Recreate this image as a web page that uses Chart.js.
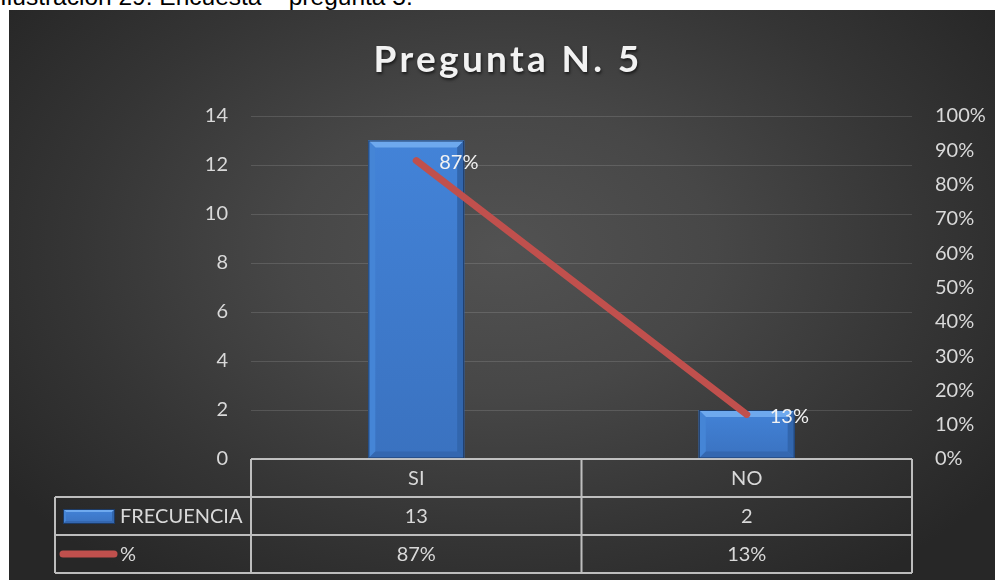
<!DOCTYPE html>
<html>
<head>
<meta charset="utf-8">
<script src="https://cdn.jsdelivr.net/npm/chart.js@4"></script>
<style>
  html, body { margin:0; padding:0; background:#fff; width:995px; height:581px; overflow:hidden; }
  .caption { position:absolute; left:0; top:-15px; font-family:'Liberation Sans', Arial, sans-serif; font-size:24.5px; line-height:24.5px; color:#000; white-space:nowrap; }
  .panel { position:absolute; left:9px; top:10px; width:986px; height:570px;
    background: radial-gradient(ellipse 62% 72% at 50% 42%, #525252 0%, #474747 35%, #353535 70%, #272727 100%); }
  .panel canvas { display:block; }
</style>
</head>
<body>
<div class="caption">Ilustración 29: Encuesta – pregunta 5.</div>
<div class="panel"><canvas id="preguntaChart" width="986" height="570"></canvas></div>
<script>
const chartTitle = 'Pregunta N. 5';
const categories = ['SI', 'NO'];
const frecuencia = [13, 2];
const porcentaje = [0.87, 0.13];
const seriesNames = ['FRECUENCIA', '%'];
const leftAxis = { min: 0, max: 14, step: 2 };
const rightAxis = { min: 0, max: 1, step: 0.1 };

const FONT = 'Lato, "Open Sans", sans-serif';
const TEXT = '#d9d9d9';
const LINE_RED = '#c0504d';

const pct = v => `${Math.round(v * 100)}%`;

// bevelled blue block, like the office "bevel" bar style
function bevelBox(ctx, l, t, r, b, bv) {
  const face = ctx.createLinearGradient(0, t, 0, b);
  face.addColorStop(0, '#4383d8');
  face.addColorStop(1, '#3a72c0');
  ctx.save();
  ctx.fillStyle = face;
  ctx.fillRect(l, t, r - l, b - t);
  const poly = (pts, fill) => {
    ctx.beginPath();
    ctx.moveTo(pts[0][0], pts[0][1]);
    pts.slice(1).forEach(p => ctx.lineTo(p[0], p[1]));
    ctx.closePath();
    ctx.fillStyle = fill;
    ctx.fill();
  };
  poly([[l, t], [r, t], [r - bv, t + bv], [l + bv, t + bv]], '#6ea9ee');
  poly([[l, t], [l + bv, t + bv], [l + bv, b - bv], [l, b]], '#4585d6');
  poly([[r, t], [r, b], [r - bv, b - bv], [r - bv, t + bv]], '#3266ad');
  poly([[l, b], [r, b], [r - bv, b - bv], [l + bv, b - bv]], '#3467b0');
  ctx.strokeStyle = '#1d3b66';
  ctx.lineWidth = 1;
  ctx.strokeRect(l + 0.5, t + 0.5, r - l - 1, b - t - 1);
  ctx.restore();
}

function drawTitle(chart) {
  const ctx = chart.ctx;
  ctx.save();
  ctx.font = `bold 37px ${FONT}`;
  ctx.letterSpacing = '3.3px';
  ctx.textAlign = 'center';
  ctx.textBaseline = 'alphabetic';
  ctx.shadowColor = 'rgba(0,0,0,0.6)';
  ctx.shadowBlur = 3;
  ctx.shadowOffsetX = 1;
  ctx.shadowOffsetY = 2;
  ctx.fillStyle = '#f2f2f2';
  ctx.fillText(chartTitle, chart.width / 2 + 6, 62);
  ctx.restore();
}

function drawLineLabels(chart) {
  const ctx = chart.ctx;
  const meta = chart.getDatasetMeta(0);
  ctx.save();
  ctx.font = `20px ${FONT}`;
  ctx.fillStyle = '#f2f2f2';
  ctx.textAlign = 'left';
  ctx.textBaseline = 'middle';
  meta.data.forEach((pt, i) => ctx.fillText(pct(porcentaje[i]), pt.x + 23, pt.y + 2));
  ctx.restore();
}

function drawDataTable(chart) {
  const { ctx, chartArea } = chart;
  const x = chart.scales.x;
  const rowH = 38;
  const top = chartArea.bottom;
  const headLeft = 46;
  const edges = [chartArea.left];
  for (let i = 0; i < categories.length - 1; i++) {
    edges.push((x.getPixelForValue(i) + x.getPixelForValue(i + 1)) / 2);
  }
  edges.push(chartArea.right);
  const bottom = top + rowH * 3;

  ctx.save();
  ctx.strokeStyle = 'rgba(205,205,205,0.9)';
  ctx.lineWidth = 2;
  ctx.beginPath();
  ctx.moveTo(chartArea.left, top); ctx.lineTo(chartArea.right, top);
  for (let r = 1; r <= 3; r++) {
    ctx.moveTo(headLeft, top + rowH * r); ctx.lineTo(chartArea.right, top + rowH * r);
  }
  ctx.moveTo(headLeft, top + rowH); ctx.lineTo(headLeft, bottom);
  edges.forEach(e => { ctx.moveTo(e, top); ctx.lineTo(e, bottom); });
  ctx.stroke();

  ctx.font = `20px ${FONT}`;
  ctx.fillStyle = TEXT;
  ctx.textAlign = 'center';
  ctx.textBaseline = 'middle';
  categories.forEach((c, i) => {
    const cx = x.getPixelForValue(i);
    ctx.fillText(c, cx, top + rowH * 0.5 + 1);
    ctx.fillText(String(frecuencia[i]), cx, top + rowH * 1.5 + 1);
    ctx.fillText(pct(porcentaje[i]), cx, top + rowH * 2.5 + 1);
  });

  // row headers with legend keys
  ctx.textAlign = 'left';
  ctx.fillText(seriesNames[0], 111, top + rowH * 1.5 + 1);
  ctx.fillText(seriesNames[1], 111, top + rowH * 2.5 + 1);
  ctx.restore();

  const k1 = top + rowH * 1.5;
  bevelBox(ctx, 54, k1 - 7, 106, k1 + 8, 3);

  const k2 = top + rowH * 2.5;
  ctx.save();
  ctx.strokeStyle = LINE_RED;
  ctx.lineWidth = 7;
  ctx.lineCap = 'round';
  ctx.beginPath();
  ctx.moveTo(54, k2); ctx.lineTo(105, k2);
  ctx.stroke();
  ctx.restore();
}

const decorPlugin = {
  id: 'decor',
  beforeDraw(chart) { drawTitle(chart); },
  afterDatasetDraw(chart, args) {
    if (args.index !== 1) return;
    args.meta.data.forEach(bar => {
      const p = bar.getProps(['x', 'y', 'width', 'base'], true);
      bevelBox(chart.ctx, p.x - p.width / 2, p.y, p.x + p.width / 2, p.base, 7);
    });
  },
  afterDatasetsDraw(chart) {
    drawLineLabels(chart);
    drawDataTable(chart);
  }
};

const ctx = document.getElementById('preguntaChart').getContext('2d');
new Chart(ctx, {
  data: {
    labels: categories,
    datasets: [
      {
        type: 'line',
        label: seriesNames[1],
        data: porcentaje,
        yAxisID: 'yPct',
        borderColor: LINE_RED,
        borderWidth: 7,
        borderCapStyle: 'round',
        pointRadius: 0,
        order: 0
      },
      {
        type: 'bar',
        label: seriesNames[0],
        data: frecuencia,
        yAxisID: 'y',
        backgroundColor: '#3f7bcc',
        barPercentage: 0.29,
        categoryPercentage: 1,
        order: 1
      }
    ]
  },
  options: {
    responsive: false,
    animation: false,
    layout: { padding: { top: 106, bottom: 121, left: 0, right: 0 } },
    plugins: { legend: { display: false }, tooltip: { enabled: false } },
    scales: {
      x: { display: false, offset: true },
      y: {
        position: 'left',
        min: leftAxis.min, max: leftAxis.max,
        ticks: { stepSize: leftAxis.step, color: TEXT, font: { family: FONT, size: 20 }, padding: 23 },
        grid: { color: 'rgba(255,255,255,0.13)', lineWidth: 1, drawTicks: false },
        border: { display: false },
        afterFit: s => { s.width = 242; }
      },
      yPct: {
        position: 'right',
        min: rightAxis.min, max: rightAxis.max,
        ticks: { stepSize: rightAxis.step, color: TEXT, font: { family: FONT, size: 20 }, padding: 23, callback: v => pct(v) },
        grid: { drawOnChartArea: false, drawTicks: false },
        border: { display: false },
        afterFit: s => { s.width = 83; }
      }
    }
  },
  plugins: [decorPlugin]
});
</script>
</body>
</html>
